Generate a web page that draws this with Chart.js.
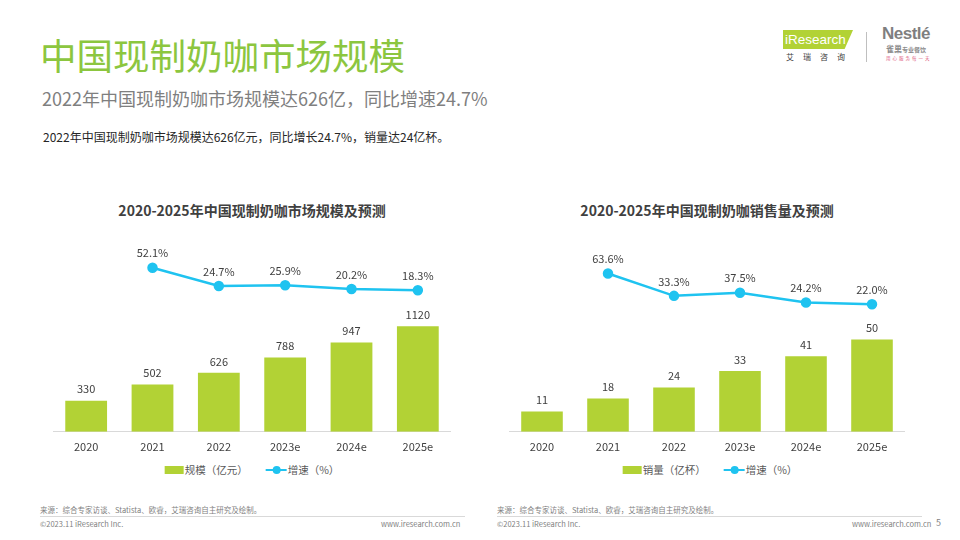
<!DOCTYPE html>
<html><head><meta charset="utf-8">
<script src="https://cdn.jsdelivr.net/npm/chart.js@4/dist/chart.umd.min.js"></script>
<style>
html,body{margin:0;padding:0;background:#fff;}
body{width:960px;height:540px;position:relative;overflow:hidden;font-family:"Noto Sans CJK SC","Noto Sans",sans-serif;}
.abs{position:absolute;white-space:nowrap;}
.h1{left:40px;top:28px;font-size:36.5px;color:#8cc63f;}
.h2{left:42px;top:85px;font-size:18px;color:#7f7f7f;}
.body{left:43px;top:128px;font-size:12px;color:#262626;}
.ctitle{font-size:14px;font-weight:bold;color:#404040;top:200px;transform:translateX(-50%);}
.legend{top:462px;font-size:10.5px;color:#595959;transform:translateX(-50%);display:flex;align-items:center;}
.sw{display:inline-block;width:19px;height:8px;background:#b2d235;margin-right:1px;}
.ln{display:inline-block;position:relative;width:21px;height:8px;margin-left:18px;margin-right:1px;}
.ln:before{content:"";position:absolute;left:0;right:0;top:3px;height:2px;background:#1fc3f0;}
.ln:after{content:"";position:absolute;left:7px;top:0;width:8px;height:8px;border-radius:50%;background:#1fc3f0;}
.wrap{position:absolute;}
.src{top:504px;font-size:7.5px;color:#7f7f7f;}
.foot{top:518px;font-size:7.5px;color:#7f7f7f;}
.hr{position:absolute;top:516px;height:1px;background:#d9d9d9;}
</style></head>
<body>
<div class="abs h1">中国现制奶咖市场规模</div>
<div class="abs h2">2022年中国现制奶咖市场规模达626亿，同比增速24.7%</div>
<div class="abs body">2022年中国现制奶咖市场规模达626亿元，同比增长24.7%，销量达24亿杯。</div>

<!-- logos -->
<div class="abs" style="left:783px;top:30px;width:70px;height:19px;background:#b2d235;clip-path:polygon(0 0,100% 0,88% 100%,0 100%);"></div>
<div class="abs" style="left:785px;top:30px;font-size:13.5px;color:#fff;font-family:'Liberation Sans',sans-serif;line-height:19px;">iResearch</div>
<div class="abs" style="left:786px;top:51px;font-size:8px;color:#404040;letter-spacing:9px;">艾瑞咨询</div>
<div class="abs" style="left:866px;top:32px;width:1px;height:30px;background:#bfbfbf;"></div>
<div class="abs" style="left:882px;top:24px;font-size:17px;font-weight:bold;color:#7f7f7f;font-family:'Liberation Sans',sans-serif;letter-spacing:-0.5px;">Nestlé</div>
<div class="abs" style="left:886px;top:43px;font-size:8px;color:#8c8c8c;font-weight:bold;">雀巢<span style="font-size:6px">专业餐饮</span></div>
<div class="abs" style="left:886px;top:55px;font-size:4.5px;color:#e06080;letter-spacing:2px;">用心服务每一天</div>

<div class="abs ctitle" style="left:252px;">2020-2025年中国现制奶咖市场规模及预测</div>
<div class="abs ctitle" style="left:707px;">2020-2025年中国现制奶咖销售量及预测</div>

<div class="wrap" style="left:53px;top:240px;width:398px;height:221px;"><canvas id="c1"></canvas></div>
<div class="wrap" style="left:509px;top:240px;width:396px;height:221px;"><canvas id="c2"></canvas></div>

<div class="abs legend" style="left:252px;"><span class="sw"></span>规模（亿元）<span class="ln"></span>增速（%）</div>
<div class="abs legend" style="left:710px;"><span class="sw"></span>销量（亿杯）<span class="ln"></span>增速（%）</div>

<div class="abs src" style="left:40px;">来源：综合专家访谈、Statista、欧睿，艾瑞咨询自主研究及绘制。</div>
<div class="abs src" style="left:497px;">来源：综合专家访谈、Statista、欧睿，艾瑞咨询自主研究及绘制。</div>
<div class="hr" style="left:40px;width:425px;"></div>
<div class="hr" style="left:497px;width:425px;"></div>
<div class="abs foot" style="left:40px;">©2023.11 iResearch Inc.</div>
<div class="abs foot" style="left:381px;">www.iresearch.com.cn</div>
<div class="abs foot" style="left:497px;">©2023.11 iResearch Inc.</div>
<div class="abs foot" style="left:852px;">www.iresearch.com.cn</div>
<div class="abs foot" style="left:936px;top:516px;font-size:9px;">5</div>

<script>
const years = ["2020","2021","2022","2023e","2024e","2025e"];
const marketSize = [330, 502, 626, 788, 947, 1120];
const marketGrowth = [null, 52.1, 24.7, 25.9, 20.2, 18.3];
const salesVolume = [11, 18, 24, 33, 41, 50];
const salesGrowth = [null, 63.6, 33.3, 37.5, 24.2, 22.0];

const GREEN = "#b2d235", BLUE = "#1fc3f0";
const FONT = '"Noto Sans CJK SC","Noto Sans",sans-serif';

const labelPlugin = {
  id: "vlabels",
  afterDatasetsDraw(chart) {
    const ctx = chart.ctx;
    ctx.save();
    ctx.font = "11px " + FONT;
    ctx.fillStyle = "#404040";
    ctx.textAlign = "center";
    ctx.textBaseline = "bottom";
    chart.data.datasets.forEach((ds, i) => {
      const meta = chart.getDatasetMeta(i);
      meta.data.forEach((el, j) => {
        const v = ds.data[j];
        if (v === null || v === undefined) return;
        const txt = ds.type === "line" ? v.toFixed(1) + "%" : String(v);
        const off = ds.type === "line" ? 9 : 6;
        ctx.fillText(txt, el.x, el.y - off);
      });
    });
    ctx.restore();
  }
};

function make(id, bars, growth, barMax, lineMin, lineMax) {
  new Chart(document.getElementById(id), {
    data: {
      labels: years,
      datasets: [
        { type: "line", data: growth, yAxisID: "y2", borderColor: BLUE, backgroundColor: BLUE,
          borderWidth: 2.5, pointRadius: 4, pointHoverRadius: 4, tension: 0, order: 0, spanGaps: false },
        { type: "bar", data: bars, yAxisID: "y", backgroundColor: GREEN,
          categoryPercentage: 0.63, barPercentage: 1, order: 1 }
      ]
    },
    plugins: [labelPlugin],
    options: {
      responsive: true, maintainAspectRatio: false, animation: false,
      layout: { padding: 0, autoPadding: false },
      plugins: { legend: { display: false }, tooltip: { enabled: false } },
      scales: {
        x: { grid: { display: false, drawTicks: false }, border: { color: "#d9d9d9", width: 1 },
             ticks: { color: "#404040", font: { size: 11, family: FONT }, padding: 8 } },
        y: { display: false, min: 0, max: barMax },
        y2: { display: false, min: lineMin, max: lineMax }
      }
    }
  });
}

make("c1", marketSize, marketGrowth, 2036, -195, 94);
make("c2", salesVolume, salesGrowth, 104, -151, 109);
</script>
</body></html>
